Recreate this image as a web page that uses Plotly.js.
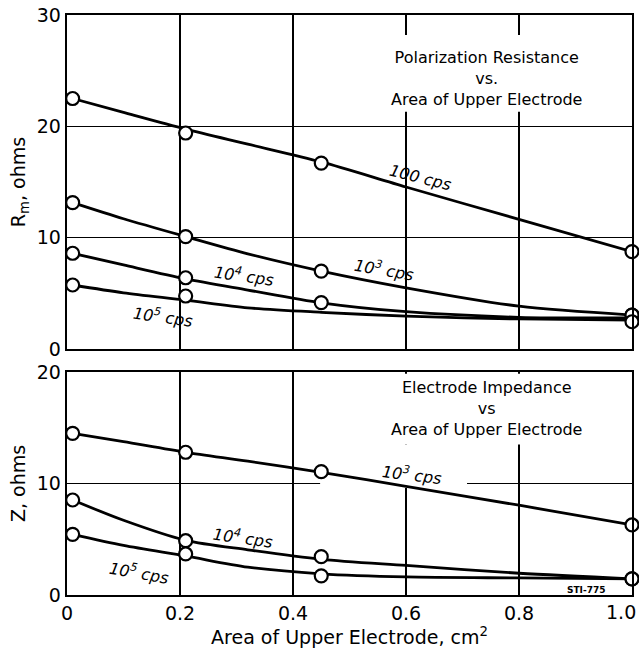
<!DOCTYPE html>
<html>
<head>
<meta charset="utf-8">
<script src="https://cdn.plot.ly/plotly-3.0.1.min.js"></script>
<style>html,body{margin:0;padding:0;background:#fff;}</style>
</head>
<body>
<div id="chart" style="width:639px;height:651px;"></div>
<script>
// ---- data ----
const xMeas  = [0.01, 0.21, 0.45, 1.0];                         // measured electrode areas, cm^2
const xCurve = [0.01, 0.1, 0.21, 0.32, 0.45, 0.6, 0.8, 1.0];    // points

// Polarization resistance Rm (ohms)
const rm100Pts    = [22.5, 19.4, 16.7, 8.75];
const rm100Curve  = [22.5, 21.25, 19.75, 18.4, 16.8, 14.55, 11.65, 8.75];
const rm1kPts     = [13.15, 10.1, 7.0, 3.05];
const rm1kCurve   = [13.15, 11.7, 10.1, 8.55, 7.0, 5.5, 3.85, 3.05];
const rm10kPts    = [8.6, 6.4, 4.17, 3.05];
const rm10kCurve  = [8.6, 7.55, 6.3, 5.3, 4.15, 3.35, 2.85, 2.8];
const rm100kPts   = [5.75, 4.76, null, 2.45];
const rm100kCurve = [5.75, 5.05, 4.4, 3.7, 3.3, 2.95, 2.7, 2.6];

// Electrode impedance Z (ohms)
const z1kPts     = [14.5, 12.8, 11.06, 6.28];
const z1kCurve   = [14.5, 13.75, 12.8, 12.0, 11.0, 9.75, 8.05, 6.28];
const z10kPts    = [8.52, 4.87, 3.44, 1.45];
const z10kCurve  = [8.52, 6.7, 4.9, 4.05, 3.2, 2.65, 1.95, 1.45];
const z100kPts   = [5.44, 3.68, 1.72, 1.45];
const z100kCurve = [5.44, 4.45, 3.5, 2.5, 1.9, 1.62, 1.53, 1.45];

const xTickVals = [0, 0.2, 0.4, 0.6, 0.8, 1.0];
const xTickText = ['0', '0.2', '0.4', '0.6', '0.8', '1.0'];
const rmTickVals = [0, 10, 20, 30];
const zTickVals  = [0, 10, 20];

// ---- traces ----
const FONT = 'DejaVu Sans, sans-serif';
function curve(x, y, xa, ya) {
  return {x: x, y: y, xaxis: xa, yaxis: ya, type: 'scatter', mode: 'lines',
          line: {color: '#000', width: 2.8, shape: 'spline', smoothing: 0.8},
          hoverinfo: 'skip', showlegend: false};
}
function pts(x, y, xa, ya) {
  return {x: x, y: y, xaxis: xa, yaxis: ya, type: 'scatter', mode: 'markers',
          cliponaxis: false,
          marker: {symbol: 'circle', size: 13, color: '#fff', line: {color: '#000', width: 2.2}},
          showlegend: false};
}
const data = [
  curve(xCurve, rm100Curve, 'x', 'y'),
  curve(xCurve, rm1kCurve, 'x', 'y'),
  curve(xCurve, rm10kCurve, 'x', 'y'),
  curve(xCurve, rm100kCurve, 'x', 'y'),
  curve(xCurve, z1kCurve, 'x2', 'y2'),
  curve(xCurve, z10kCurve, 'x2', 'y2'),
  curve(xCurve, z100kCurve, 'x2', 'y2'),
  pts(xMeas, rm100Pts, 'x', 'y'),
  pts(xMeas, rm1kPts, 'x', 'y'),
  pts(xMeas, rm10kPts, 'x', 'y'),
  pts(xMeas, rm100kPts, 'x', 'y'),
  pts(xMeas, z1kPts, 'x2', 'y2'),
  pts(xMeas, z10kPts, 'x2', 'y2'),
  pts(xMeas, z100kPts, 'x2', 'y2')
];

// ---- layout ----
const TICKSIZE = 19;
const axisCommon = {
  showline: true, mirror: true, linecolor: '#000', linewidth: 2.3,
  showgrid: true, gridcolor: '#000', gridwidth: 1.3,
  zeroline: false, ticks: '',
  tickfont: {family: FONT, size: TICKSIZE, color: '#000'}
};
function lbl(text, x, y, xr, yr, angle, size, extra) {
  return Object.assign({text: text, x: x, y: y, xref: xr, yref: yr, showarrow: false,
          textangle: angle, font: {family: FONT, size: size, color: '#000'},
          xanchor: 'center', yanchor: 'middle'}, extra || {});
}
function mask(x0, x1, y0, y1, xr, yr) {
  return {type: 'rect', layer: 'between', xref: xr, yref: yr, x0: x0, x1: x1, y0: y0, y1: y1,
          fillcolor: '#fff', line: {width: 0}};
}

// the last tick label sits flush with the right edge of the page, as in the original
const lastTick = xTickText[xTickText.length - 1];
const axisTickText = xTickText.slice(0, -1).concat(['']);

const layout = {
  width: 639, height: 651,
  margin: {l: 67, r: 7, t: 15, b: 56},
  paper_bgcolor: '#fff', plot_bgcolor: '#fff',
  showlegend: false,
  xaxis: Object.assign({}, axisCommon, {anchor: 'y', domain: [0, 1], range: [0, 1],
          tickvals: xTickVals, ticktext: xTickText, showticklabels: false}),
  yaxis: Object.assign({}, axisCommon, {anchor: 'x', domain: [0.4241, 1], range: [0, 30],
          tickvals: rmTickVals,
          title: {text: 'R<sub>m</sub>, ohms', font: {family: FONT, size: 19, color: '#000'}, standoff: 6}}),
  xaxis2: Object.assign({}, axisCommon, {anchor: 'y2', domain: [0, 1], range: [0, 1],
          tickvals: xTickVals, ticktext: axisTickText,
          title: {text: 'Area of Upper Electrode, cm<sup>2</sup>', font: {family: FONT, size: 19, color: '#000'}, standoff: 2}}),
  yaxis2: Object.assign({}, axisCommon, {anchor: 'x2', domain: [0, 0.3845], range: [0, 20],
          tickvals: zTickVals,
          title: {text: 'Z, ohms', font: {family: FONT, size: 19, color: '#000'}, standoff: 6}}),
  shapes: [
    mask(0.55, 0.87, 21.3, 28.2, 'x', 'y'),
    mask(0.55, 0.87, 13.5, 19.85, 'x2', 'y2'),
    mask(0.56, 0.64, 10.3, 13.5, 'x2', 'y2'),
    mask(0.448, 0.708, 9.6, 10.4, 'x2', 'y2')
  ],
  annotations: [
    lbl('Polarization Resistance<br>vs.<br>Area of Upper Electrode', 0.743, 24.3, 'x', 'y', 0, 16),
    lbl('<i>100 cps</i>', 0.625, 15.45, 'x', 'y', 14, 16),
    lbl('<i>10<sup>3</sup> cps</i>', 0.561, 7.1, 'x', 'y', 10, 16),
    lbl('<i>10<sup>4</sup> cps</i>', 0.313, 6.6, 'x', 'y', 8, 16),
    lbl('<i>10<sup>5</sup> cps</i>', 0.17, 2.9, 'x', 'y', 8, 16),
    lbl('Electrode Impedance<br>vs<br>Area of Upper Electrode', 0.743, 16.7, 'x2', 'y2', 0, 16),
    lbl('<i>10<sup>3</sup> cps</i>', 0.611, 10.8, 'x2', 'y2', 7, 16),
    lbl('<i>10<sup>4</sup> cps</i>', 0.311, 5.2, 'x2', 'y2', 8, 16),
    lbl('<i>10<sup>5</sup> cps</i>', 0.127, 2.0, 'x2', 'y2', 10, 16),
    lbl('<b>STI-775</b>', 0.919, 0.45, 'x2', 'y2', 0, 9),
    lbl(lastTick, 1, -0.03, 'paper', 'paper', 0, TICKSIZE, {xanchor: 'right', xshift: 6})
  ]
};

Plotly.newPlot('chart', data, layout, {displayModeBar: false, staticPlot: true});
</script>
</body>
</html>
